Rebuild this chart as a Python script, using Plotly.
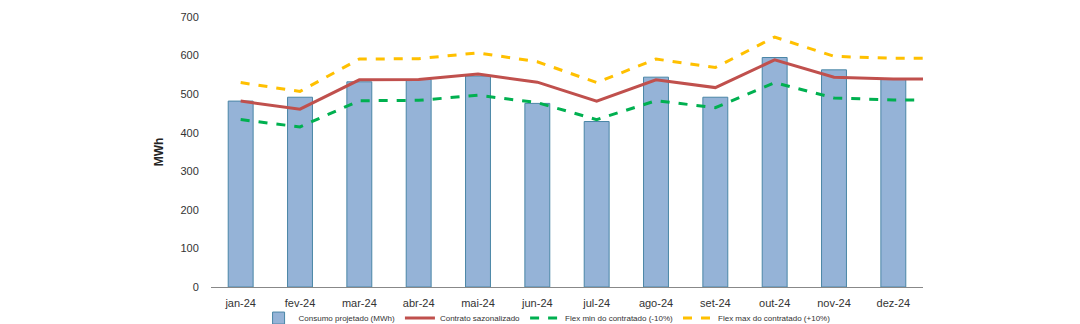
import plotly.graph_objects as go

months = ["jan-24", "fev-24", "mar-24", "abr-24", "mai-24", "jun-24",
          "jul-24", "ago-24", "set-24", "out-24", "nov-24", "dez-24"]
consumo = [482, 492, 532, 538, 547, 476, 429, 544, 492, 595, 563, 538]
contrato = [482, 461, 537, 538, 552, 531, 482, 537, 517, 589, 544, 539, 539]
flex_min = [434, 415, 483, 484, 497, 478, 434, 483, 465, 530, 490, 485, 485]
flex_max = [530, 507, 591, 592, 607, 584, 530, 591, 569, 648, 598, 593, 593]
y_ticks = [0, 100, 200, 300, 400, 500, 600, 700]

xb = list(range(len(months)))
xl = list(range(len(contrato)))

fig = go.Figure()
fig.add_trace(go.Bar(
    x=xb, y=consumo, name="Consumo projetado (MWh)", width=0.42,
    marker=dict(color="#95B3D7", line=dict(color="#4A86A6", width=1)),
))
fig.add_trace(go.Scatter(
    x=xl, y=contrato, name="Contrato sazonalizado", mode="lines",
    line=dict(color="#C0504D", width=3),
))
fig.add_trace(go.Scatter(
    x=xl, y=flex_min, name="Flex min do contratado (-10%)", mode="lines",
    line=dict(color="#00B050", width=3, dash="dash"),
))
fig.add_trace(go.Scatter(
    x=xl, y=flex_max, name="Flex max do contratado (+10%)", mode="lines",
    line=dict(color="#FFC000", width=3, dash="dash"),
))

fig.update_layout(
    width=1080, height=324,
    margin=dict(l=211, r=157, t=17, b=37, autoexpand=False),
    paper_bgcolor="white", plot_bgcolor="white",
    font=dict(family="Liberation Sans, Arial, sans-serif", size=11, color="#333333"),
    showlegend=True,
    legend=dict(orientation="h", x=0.472, xanchor="center", y=-0.115, yanchor="middle",
                font=dict(size=8, color="#333333"), itemwidth=30,
                traceorder="normal", bgcolor="rgba(0,0,0,0)"),
)
fig.update_xaxes(
    range=[-0.5, 11.5], tickmode="array", tickvals=xb, ticktext=months,
    showline=True, linecolor="#888888", linewidth=1, showgrid=False,
    ticks="outside", ticklen=6, tickcolor="rgba(0,0,0,0)", zeroline=False,
    tickfont=dict(size=11, color="#333333"),
)
fig.update_yaxes(
    range=[0, 700], tickmode="array", tickvals=y_ticks,
    showline=False, showgrid=False, zeroline=False,
    ticks="outside", ticklen=9, tickcolor="rgba(0,0,0,0)",
    tickfont=dict(size=11, color="#333333"),
    title=dict(text="<b>MWh</b>", font=dict(size=12, color="#222222"), standoff=14),
)

fig.write_html("out.html")
